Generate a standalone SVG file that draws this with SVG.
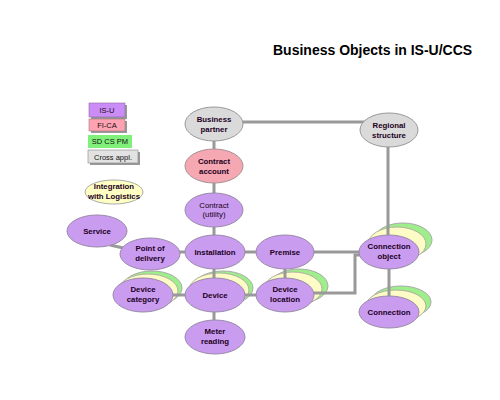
<svg xmlns="http://www.w3.org/2000/svg" width="500" height="400" viewBox="0 0 500 400">
<style>
.t{font-family:"Liberation Sans",Arial,sans-serif;font-size:7.8px;font-weight:bold;fill:#220022;text-anchor:middle}
.tn{font-family:"Liberation Sans",Arial,sans-serif;font-size:7.8px;fill:#220022;text-anchor:middle}
.lg{font-family:"Liberation Sans",Arial,sans-serif;font-size:7.5px;fill:#111;text-anchor:middle}
.title{font-family:"Liberation Sans",Arial,sans-serif;font-size:14px;font-weight:bold;fill:#000}
.p{fill:#c99cf0;stroke:#9a8aa8;stroke-width:1}
.k{fill:#f5a8b2;stroke:#a89096;stroke-width:1}
.g{fill:#dadada;stroke:#999;stroke-width:1}
.y{fill:#ffffc4;stroke:#aaa;stroke-width:1}
.gs{fill:#9eee8c;stroke:#aaa;stroke-width:1}
.ys{fill:#fdfcc6;stroke:#b0b0a0;stroke-width:1}
.c{fill:none;stroke:#999;stroke-width:3}
.sh{fill:#999}
</style>
<rect width="500" height="400" fill="#fff"/>
<text class="title" x="273" y="55">Business Objects in IS-U/CCS</text>

<g id="legend">
  <rect class="sh" x="91" y="105" width="36" height="14"/>
  <rect x="89" y="103" width="36" height="14" fill="#cc8cf8" stroke="#8a6aa0" stroke-width="0.6"/>
  <text class="lg" x="107" y="113">IS-U</text>
  <rect class="sh" x="91" y="121" width="36" height="12"/>
  <rect x="89" y="119" width="36" height="12" fill="#ffa2b2" stroke="#a07880" stroke-width="0.6"/>
  <text class="lg" x="107" y="128">FI-CA</text>
  <rect x="88" y="135" width="44" height="13" fill="#80f07a"/>
  <text class="lg" x="110" y="144">SD CS PM</text>
  <rect class="sh" x="90" y="152" width="50" height="13"/>
  <rect x="88" y="150" width="50" height="13" fill="#e2e2e2" stroke="#888" stroke-width="0.6"/>
  <text class="lg" x="113" y="159.5">Cross appl.</text>
</g>

<g id="stacks">
  <ellipse class="gs" cx="152" cy="288" rx="30" ry="17"/>
  <ellipse class="ys" cx="148" cy="291" rx="30" ry="17"/>
  <ellipse class="gs" cx="223" cy="288" rx="30" ry="17"/>
  <ellipse class="ys" cx="219" cy="290" rx="30" ry="17"/>
  <ellipse class="gs" cx="299" cy="286" rx="29" ry="17"/>
  <ellipse class="ys" cx="293" cy="289" rx="29" ry="17"/>
  <ellipse class="gs" cx="403" cy="240" rx="29" ry="17"/>
  <ellipse class="ys" cx="397" cy="244" rx="29" ry="17"/>
  <ellipse class="gs" cx="401" cy="302" rx="30" ry="16"/>
  <ellipse class="ys" cx="396" cy="306" rx="30" ry="16"/>
</g>

<g id="connectors">
  <path class="c" d="M214 122 H389"/>
  <path class="c" d="M388 130 V252"/>
  <path class="c" d="M214 124 V337"/>
  <path class="c" d="M150 252 H389"/>
  <path class="c" d="M110 245 L150 254"/>
  <path class="c" d="M143 295 H285"/>
  <path class="c" d="M285 252 V295"/>
  <path class="c" d="M285 293 H355 V255 H370"/>
  <path class="c" d="M389 252 V312"/>
</g>

<g id="bp"><ellipse class="g" cx="214" cy="124" rx="29" ry="17"/><text class="t" x="214" y="122">Business</text><text class="t" x="214" y="132">partner</text></g>
<g id="ca"><ellipse class="k" cx="214" cy="166" rx="29" ry="17"/><text class="t" x="214" y="164">Contract</text><text class="t" x="214" y="174">account</text></g>
<g id="ct"><ellipse class="p" cx="214" cy="210" rx="29" ry="17"/><text class="tn" x="214" y="208">Contract</text><text class="tn" x="214" y="217">(utility)</text></g>
<g id="rs"><ellipse class="g" cx="389" cy="130" rx="29" ry="17"/><text class="t" x="389" y="128">Regional</text><text class="t" x="389" y="138">structure</text></g>
<g id="int"><ellipse class="y" cx="114" cy="192" rx="29" ry="12"/><text class="t" x="114" y="189">Integration</text><text class="t" x="114" y="199">with Logistics</text></g>
<g id="sv"><ellipse class="p" cx="97" cy="231" rx="30" ry="16"/><text class="t" x="97" y="234">Service</text></g>
<g id="pod"><ellipse class="p" cx="150" cy="254" rx="30" ry="16"/><text class="t" x="150" y="251">Point of</text><text class="t" x="150" y="261">delivery</text></g>
<g id="inst"><ellipse class="p" cx="215" cy="252" rx="30" ry="17"/><text class="t" x="215" y="255">Installation</text></g>
<g id="pr"><ellipse class="p" cx="285" cy="252" rx="29" ry="17"/><text class="t" x="285" y="255">Premise</text></g>
<g id="co"><ellipse class="p" cx="389" cy="252" rx="30" ry="17"/><text class="t" x="389" y="249">Connection</text><text class="t" x="389" y="259">object</text></g>
<g id="dc"><ellipse class="p" cx="143" cy="295" rx="30" ry="17"/><text class="t" x="143" y="292">Device</text><text class="t" x="143" y="302">category</text></g>
<g id="dv"><ellipse class="p" cx="215" cy="295" rx="30" ry="17"/><text class="t" x="215" y="298">Device</text></g>
<g id="dl"><ellipse class="p" cx="285" cy="295" rx="29" ry="17"/><text class="t" x="285" y="292">Device</text><text class="t" x="285" y="302">location</text></g>
<g id="mr"><ellipse class="p" cx="215" cy="337" rx="30" ry="17"/><text class="t" x="215" y="334">Meter</text><text class="t" x="215" y="344">reading</text></g>
<g id="cn"><ellipse class="p" cx="389" cy="312" rx="30" ry="16"/><text class="t" x="389" y="315">Connection</text></g>
</svg>
